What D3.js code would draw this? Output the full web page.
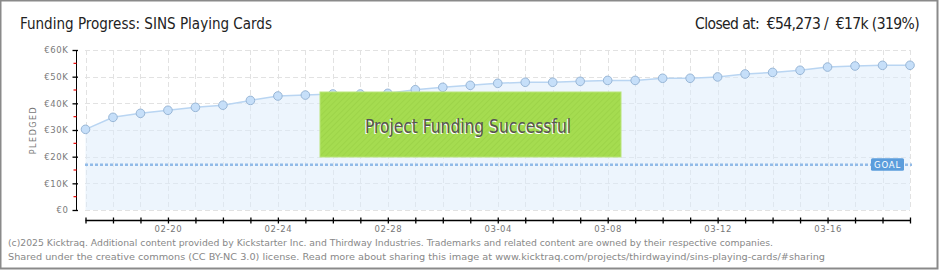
<!DOCTYPE html>
<html>
<head>
<meta charset="utf-8">
<script src="https://cdn.jsdelivr.net/npm/d3@7"></script>
<style>
body { margin: 0; background: #fff; }
#chart { width: 940px; height: 270px; }
</style>
</head>
<body>
<div id="chart"></div>
<script>
// daily pledged totals, 2025-02-17 .. 2025-03-19
const dates = ["2025-02-17","2025-02-18","2025-02-19","2025-02-20","2025-02-21","2025-02-22","2025-02-23","2025-02-24",
  "2025-02-25","2025-02-26","2025-02-27","2025-02-28","2025-03-01","2025-03-02","2025-03-03","2025-03-04",
  "2025-03-05","2025-03-06","2025-03-07","2025-03-08","2025-03-09","2025-03-10","2025-03-11","2025-03-12",
  "2025-03-13","2025-03-14","2025-03-15","2025-03-16","2025-03-17","2025-03-18","2025-03-19"]
const pledged = [30250, 34750, 36250, 37400, 38500, 39300, 41100, 42750,
  43100, 43500, 43500, 43750, 45100, 46000, 46750, 47500,
  47900, 47900, 48250, 48600, 48600, 49400, 49400, 49900,
  51000, 51600, 52400, 53600, 54000, 54250, 54273]
const goal = 17000
const yTicks = [0, 10000, 20000, 30000, 40000, 50000, 60000]
const yLabels = ["€0", "€10K", "€20K", "€30K", "€40K", "€50K", "€60K"]
const xLabels = ["02-20", "02-24", "02-28", "03-04", "03-08", "03-12", "03-16"]

const width = 940, height = 270
const narrow = "'Liberation Sans Narrow', 'DejaVu Sans Condensed', sans-serif"
const parse = d3.utcParse("%Y-%m-%d")
const data = dates.map((d, i) => ({ date: parse(d), value: pledged[i] }))

const svg = d3.select("#chart").append("svg")
  .attr("width", width)
  .attr("height", height)
  .style("font-family", "'DejaVu Sans', sans-serif")

// frame
svg.append("rect").attr("x", 0.5).attr("y", 0.5).attr("width", 937).attr("height", 268)
  .attr("fill", "#fff").attr("stroke", "#8a8a8a").attr("stroke-width", 2)

const x = d3.scaleUtc().domain(d3.extent(data, d => d.date)).range([85.5, 910])
const y = d3.scaleLinear().domain([0, 60000]).range([210, 50])

// title
svg.append("text").attr("x", 20).attr("y", 29)
  .attr("font-family", narrow).attr("font-size", 16).attr("fill", "#222")
  .attr("textLength", 252).attr("lengthAdjust", "spacingAndGlyphs")
  .text("Funding Progress: SINS Playing Cards")
svg.append("text").attr("x", 919).attr("y", 29).attr("text-anchor", "end")
  .attr("font-family", narrow).attr("font-size", 15.5).attr("fill", "#222")
  .attr("letter-spacing", -0.6)
  .attr("xml:space", "preserve")
  .text("Closed at:  €54,273 /  €17k (319%)")

// grid
const grid = svg.append("g").attr("stroke", "#e2e2e2").attr("stroke-dasharray", "5,3")
grid.selectAll(".gy").data(yTicks).join("line")
  .attr("x1", 85).attr("x2", 910).attr("y1", d => Math.round(y(d)) + 0.5).attr("y2", d => Math.round(y(d)) + 0.5)
grid.selectAll(".gx").data(data).join("line")
  .attr("x1", d => Math.round(x(d.date)) + 0.5).attr("x2", d => Math.round(x(d.date)) + 0.5)
  .attr("y1", 50).attr("y2", 210)

// area + line
const area = d3.area().x(d => x(d.date)).y0(y(0)).y1(d => y(d.value))
const line = d3.line().x(d => x(d.date)).y(d => y(d.value))
svg.append("path").datum(data).attr("d", area).attr("fill", "#dcebfb").attr("fill-opacity", 0.5)
svg.append("path").datum(data).attr("d", line).attr("fill", "none").attr("stroke", "#b9d5f2").attr("stroke-width", 1.5)

// goal line
svg.append("line").attr("x1", 85).attr("x2", 912).attr("y1", y(goal)).attr("y2", y(goal))
  .attr("stroke", "#92bbe8").attr("stroke-width", 2.5).attr("stroke-dasharray", "3,2")

// points
svg.append("g").selectAll("circle").data(data).join("circle")
  .attr("cx", d => x(d.date)).attr("cy", d => y(d.value)).attr("r", 4.3)
  .attr("fill", "#c6dff9").attr("stroke", "#98b6d6").attr("stroke-width", 1)

// goal tag
const gx = x(data[data.length - 1].date) - 39, gy = y(goal) - 6.5
svg.append("rect").attr("x", gx).attr("y", gy).attr("width", 33).attr("height", 12.5).attr("rx", 1.5)
  .attr("fill", "#5b9ddc")
svg.append("text").attr("x", gx + 16.5).attr("y", gy + 9.5).attr("text-anchor", "middle")
  .attr("font-size", 8.5).attr("fill", "#fff").attr("letter-spacing", 0.8).text("GOAL")

// success banner
const defs = svg.append("defs")
const pat = defs.append("pattern").attr("id", "hatch").attr("width", 4).attr("height", 4)
  .attr("patternUnits", "userSpaceOnUse").attr("patternTransform", "rotate(45)")
pat.append("rect").attr("width", 4).attr("height", 4).attr("fill", "#a5dc50")
pat.append("line").attr("x1", 0).attr("y1", 0).attr("x2", 0).attr("y2", 4).attr("stroke", "#9ad247").attr("stroke-width", 1.5)
svg.append("rect").attr("x", 320).attr("y", 92).attr("width", 301).attr("height", 65)
  .attr("fill", "url(#hatch)").attr("stroke", "#b9e57a").attr("stroke-width", 1)
svg.append("text").attr("x", 467).attr("y", 134).attr("text-anchor", "middle")
  .attr("font-family", narrow).attr("font-size", 19).attr("fill", "#fff")
  .attr("textLength", 206).attr("lengthAdjust", "spacingAndGlyphs")
  .text("Project Funding Successful")
svg.append("text").attr("x", 468).attr("y", 133).attr("text-anchor", "middle")
  .attr("font-family", narrow).attr("font-size", 19).attr("fill", "#555")
  .attr("textLength", 206).attr("lengthAdjust", "spacingAndGlyphs")
  .text("Project Funding Successful")

// y axis
const yAxis = svg.append("g").attr("transform", "translate(76.5,0)")
  .call(d3.axisLeft(y).tickValues(yTicks).tickSize(4).tickFormat((d, i) => yLabels[i]))
yAxis.select(".domain").attr("stroke", "#000").attr("d", "M0,50V210")
yAxis.selectAll(".tick line").attr("x2", -4).attr("x1", 1.5).attr("stroke", "#000").attr("stroke-width", 1.3)
yAxis.selectAll(".tick text").attr("x", -8).attr("fill", "#7a7a7a").attr("font-size", 8.5)
  .attr("letter-spacing", 0.6).attr("font-family", "'DejaVu Sans', sans-serif")
// red minor ticks
yAxis.selectAll(".minor").data(d3.range(5000, 60000, 10000)).join("line")
  .attr("x1", -3).attr("x2", 0).attr("y1", d => y(d)).attr("y2", d => y(d))
  .attr("stroke", "#e00").attr("stroke-width", 1.2)

svg.append("text").attr("transform", "translate(36,130) rotate(-90)").attr("text-anchor", "middle")
  .attr("font-size", 8).attr("fill", "#777").attr("letter-spacing", 1.5).text("PLEDGED")

// x axis
const fmt = d3.utcFormat("%m-%d")
const xAxis = svg.append("g").attr("transform", "translate(0,220.5)")
  .call(d3.axisBottom(x).tickValues(data.map(d => d.date)).tickSize(3)
    .tickFormat(d => xLabels.includes(fmt(d)) ? fmt(d) : ""))
xAxis.select(".domain").attr("stroke", "#000").attr("stroke-width", 1.3).attr("d", "M85.5,0H910")
xAxis.selectAll(".tick line").attr("y1", -3).attr("y2", 3).attr("stroke", "#000").attr("stroke-width", 1.3)
xAxis.selectAll(".tick text").attr("y", 5).attr("fill", "#777").attr("font-size", 8.5)
  .attr("letter-spacing", 0.6).attr("font-family", "'DejaVu Sans', sans-serif")

// footer
svg.append("text").attr("x", 8).attr("y", 246).attr("font-size", 9.5).attr("fill", "#888")
  .attr("textLength", 765).attr("lengthAdjust", "spacingAndGlyphs")
  .text("(c)2025 Kicktraq. Additional content provided by Kickstarter Inc. and Thirdway Industries. Trademarks and related content are owned by their respective companies.")
svg.append("text").attr("x", 8).attr("y", 260).attr("font-size", 9.5).attr("fill", "#888")
  .attr("textLength", 817).attr("lengthAdjust", "spacingAndGlyphs")
  .text("Shared under the creative commons (CC BY-NC 3.0) license. Read more about sharing this image at www.kicktraq.com/projects/thirdwayind/sins-playing-cards/#sharing")
</script>
</body>
</html>
